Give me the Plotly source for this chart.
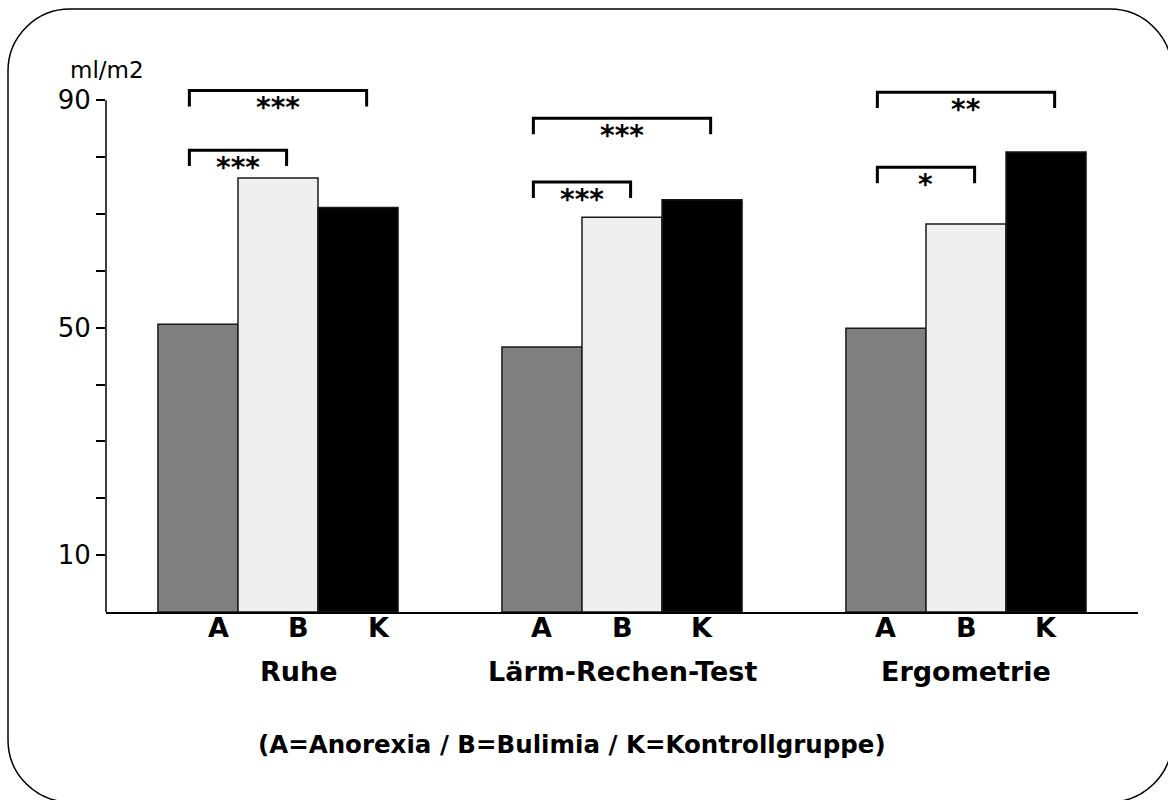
import plotly.graph_objects as go

# Conditions (groups on the x axis) and subject groups (bars within each condition)
conditions = ["Ruhe", "Lärm-Rechen-Test", "Ergometrie"]
groups = ["A", "B", "K"]

# Values in ml/m2 per subject group, one entry per condition
values_A = [50.6, 46.6, 49.9]
values_B = [76.3, 69.4, 68.2]
values_K = [71.1, 72.5, 80.9]

bar_colors = ["#808080", "#efefef", "#000000"]

# y axis ticks: minor ticks every 10, labels only at 10, 50, 90
tick_values = [10, 20, 30, 40, 50, 60, 70, 80, 90]
tick_labels = ["10", "", "", "", "50", "", "", "", "90"]

# Significance brackets: (condition index, from group, to group, bracket height, label)
brackets = [
    (0, "A", "K", 91.7, "***"),
    (0, "A", "B", 81.2, "***"),
    (1, "A", "K", 86.8, "***"),
    (1, "A", "B", 75.6, "***"),
    (2, "A", "K", 91.4, "**"),
    (2, "A", "B", 78.2, "*"),
]

footnote = "(A=Anorexia / B=Bulimia / K=Kontrollgruppe)"
unit_label = "ml/m2"

W, H = 1168, 800
ML, MR, MT, MB = 106, 30, 66, 188
PW, PH = W - ML - MR, H - MT - MB
Y_MAX = 96

BARGAP = 0.302
bw = (1 - BARGAP) / 3  # width of one bar in x units

# horizontal nudge of the text labels under each condition (x units)
label_shift = [0.06, 0.0, 0.0]

def bar_x(ci, g):
    return ci + (groups.index(g) - 1) * bw

def px(xp):
    return (xp - ML) / PW

def py(yp):
    return (H - MB - yp) / PH

FONT = "DejaVu Sans"

fig = go.Figure()
for g, vals, col in zip(groups, [values_A, values_B, values_K], bar_colors):
    fig.add_trace(go.Bar(
        x=list(range(len(conditions))), y=vals, name=g,
        marker=dict(color=col, line=dict(color="#1a1a1a", width=1.5)),
        showlegend=False, hoverinfo="y",
    ))

shapes = []
annotations = []

# y axis line up to 90
shapes.append(dict(type="line", xref="paper", yref="y", x0=0, x1=0, y0=0, y1=90,
                   line=dict(color="black", width=1.5)))

# significance brackets
leg = 2.8
pad = 0.025
for ci, g0, g1, lvl, lab in brackets:
    x0 = bar_x(ci, g0) - pad
    x1 = bar_x(ci, g1) + pad
    shapes.append(dict(type="path", xref="x", yref="y",
                       path=f"M {x0},{lvl - leg} L {x0},{lvl} L {x1},{lvl} L {x1},{lvl - leg}",
                       line=dict(color="black", width=3)))
    annotations.append(dict(x=(x0 + x1) / 2, y=lvl, xref="x", yref="y", text=lab,
                            showarrow=False, xanchor="center", yanchor="top", yshift=1,
                            font=dict(family=FONT, size=28, color="black", weight="bold")))

# group letters under each bar
for ci in range(len(conditions)):
    for g in groups:
        annotations.append(dict(x=bar_x(ci, g) + label_shift[ci], y=py(627),
                                xref="x", yref="paper", text=g,
                                showarrow=False, xanchor="center", yanchor="middle",
                                font=dict(family=FONT, size=27, color="black", weight="bold")))

# condition labels
for ci, name in enumerate(conditions):
    annotations.append(dict(x=ci + label_shift[ci], y=py(671), xref="x", yref="paper", text=name,
                            showarrow=False, xanchor="center", yanchor="middle",
                            font=dict(family=FONT, size=27, color="black", weight="bold")))

# footnote
annotations.append(dict(x=px(572), y=py(744), xref="paper", yref="paper", text=footnote,
                        showarrow=False, xanchor="center", yanchor="middle",
                        font=dict(family=FONT, size=24.5, color="black", weight="bold")))

# unit label
annotations.append(dict(x=px(107), y=py(70), xref="paper", yref="paper", text=unit_label,
                        showarrow=False, xanchor="center", yanchor="middle",
                        font=dict(family=FONT, size=23, color="black")))

# rounded frame around the whole chart
L, T, R, B, r = 8, 9, 1172, 802, 62
k = 0.5523 * r
def P(a, b):
    return f"{px(a)},{py(b)}"
frame = (f"M {P(L + r, T)} L {P(R - r, T)} "
         f"C {P(R - r + k, T)} {P(R, T + r - k)} {P(R, T + r)} "
         f"L {P(R, B - r)} "
         f"C {P(R, B - r + k)} {P(R - r + k, B)} {P(R - r, B)} "
         f"L {P(L + r, B)} "
         f"C {P(L + r - k, B)} {P(L, B - r + k)} {P(L, B - r)} "
         f"L {P(L, T + r)} "
         f"C {P(L, T + r - k)} {P(L + r - k, T)} {P(L + r, T)} Z")
shapes.append(dict(type="path", xref="paper", yref="paper", path=frame,
                   line=dict(color="black", width=1.5), layer="below"))

fig.update_layout(
    width=W, height=H,
    margin=dict(l=ML, r=MR, t=MT, b=MB),
    paper_bgcolor="white", plot_bgcolor="white",
    barmode="group", bargap=BARGAP, bargroupgap=0,
    shapes=shapes, annotations=annotations,
    xaxis=dict(range=[-0.5, 2.5], showgrid=False, zeroline=False,
               showline=True, linecolor="black", linewidth=1.5,
               showticklabels=False, ticks=""),
    yaxis=dict(range=[0, Y_MAX], showgrid=False, zeroline=False, showline=False,
               tickmode="array", tickvals=tick_values, ticktext=tick_labels,
               ticks="outside", ticklen=9, tickwidth=1.5, tickcolor="black",
               tickfont=dict(family=FONT, size=26, color="black")),
)

fig.write_html("out.html")
